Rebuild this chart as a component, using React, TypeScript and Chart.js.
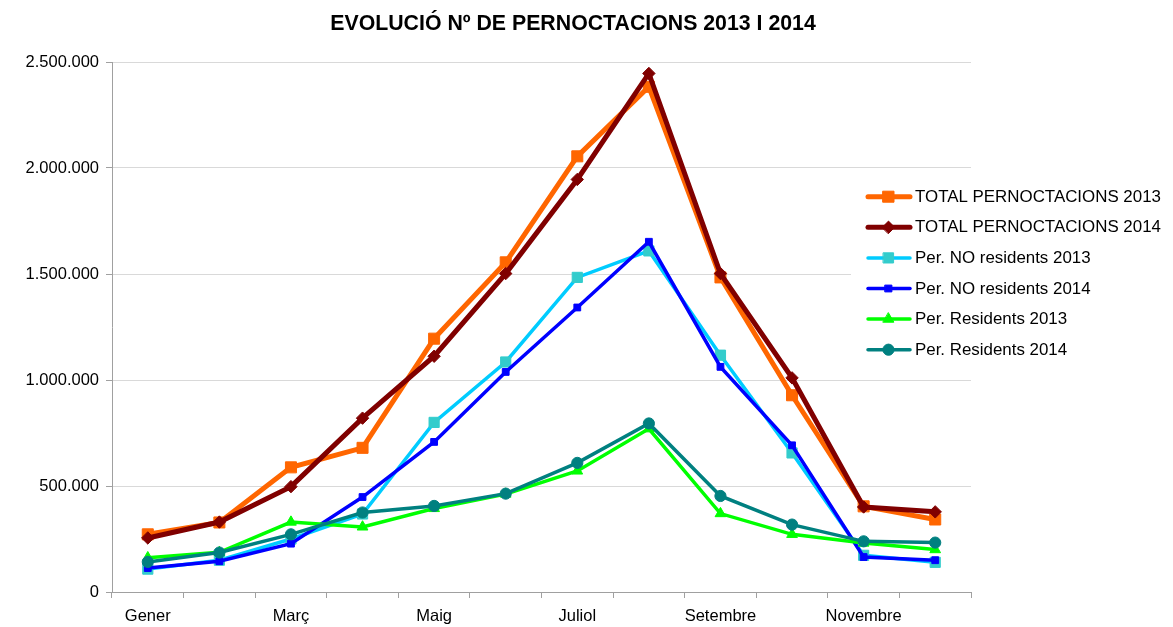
import React, { useEffect, useRef } from 'react';
import { Chart, registerables } from 'chart.js';
import { drawPoint } from 'chart.js/helpers';

Chart.register(...registerables);

const months = ['Gener', 'Febrer', 'Març', 'Abril', 'Maig', 'Juny', 'Juliol', 'Agost', 'Setembre', 'Octubre', 'Novembre', 'Desembre'];
const total2013 = [272000, 328000, 588000, 680000, 1195000, 1555000, 2055000, 2383000, 1484000, 928000, 404000, 342000];
const total2014 = [255000, 330000, 497000, 820000, 1112000, 1502000, 1946000, 2446000, 1502000, 1010000, 401000, 378000];
const noRes2013 = [108000, 150000, 250000, 368000, 800000, 1085000, 1484000, 1609000, 1117000, 656000, 173000, 140000];
const noRes2014 = [113000, 145000, 228000, 448000, 708000, 1038000, 1342000, 1652000, 1062000, 692000, 165000, 150000];
const res2013 = [162000, 187000, 330000, 307000, 394000, 462000, 571000, 770000, 370000, 272000, 231000, 200000];
const res2014 = [142000, 186000, 272000, 375000, 406000, 464000, 609000, 795000, 453000, 318000, 239000, 233000];
const yMin = 0;
const yMax = 2500000;
const yStep = 500000;
const title = 'EVOLUCIÓ Nº DE PERNOCTACIONS 2013 I 2014';

const FONT = '"Liberation Sans", Arial, sans-serif';

const fmt = (v: number) => String(Math.round(v)).replace(/\B(?=(\d{3})+(?!\d))/g, '.');

const titlePlugin = {
  id: 'customTitle',
  afterDraw(chart: any) {
    const ctx = chart.ctx;
    ctx.save();
    ctx.font = `bold 21.3px ${FONT}`;
    ctx.fillStyle = '#000';
    ctx.textAlign = 'center';
    ctx.textBaseline = 'alphabetic';
    ctx.fillText(title, 573, 30);
    ctx.restore();
  },
};

const legendPlugin = {
  id: 'customLegend',
  afterDraw(chart: any) {
    const ctx = chart.ctx;
    ctx.save();
    ctx.fillStyle = '#ffffff';
    ctx.fillRect(851, 178, 322, 190);
    chart.data.datasets.forEach((ds: any, i: number) => {
      const y = 196.7 + i * 30.6;
      ctx.strokeStyle = ds.borderColor;
      ctx.lineWidth = ds.borderWidth;
      ctx.lineCap = 'round';
      ctx.beginPath();
      ctx.moveTo(868, y);
      ctx.lineTo(910, y);
      ctx.stroke();
      ctx.fillStyle = ds.pointBackgroundColor;
      ctx.strokeStyle = ds.pointBorderColor;
      ctx.lineWidth = ds.pointBorderWidth;
      drawPoint(ctx, { pointStyle: ds.pointStyle, radius: ds.pointRadius, rotation: 0, borderWidth: ds.pointBorderWidth }, 888.5, y);
      ctx.fillStyle = '#000';
      ctx.font = `16.9px ${FONT}`;
      ctx.textAlign = 'left';
      ctx.textBaseline = 'middle';
      ctx.fillText(ds.label, 915, y + 0.5);
    });
    ctx.restore();
  },
};

export default function App() {
  const ref = useRef<HTMLCanvasElement>(null);
  useEffect(() => {
    if (!ref.current) return;
    Chart.defaults.font.family = FONT;
    const mk = (label: string, data: number[], line: string, fill: string, style: string, radius: number, width: number, order: number) => ({
      label,
      data,
      borderColor: line,
      backgroundColor: fill,
      borderWidth: width,
      pointStyle: style,
      pointRadius: radius,
      pointBackgroundColor: fill,
      pointBorderColor: fill,
      pointBorderWidth: 1,
      tension: 0,
      fill: false,
      order,
    });
    const chart = new Chart(ref.current, {
      type: 'line',
      data: {
        labels: months,
        datasets: [
          mk('TOTAL PERNOCTACIONS 2013', total2013, '#FF6600', '#FF6600', 'rect', 7.8, 5, 6),
          mk('TOTAL PERNOCTACIONS 2014', total2014, '#800000', '#800000', 'rectRot', 6.2, 5, 5),
          mk('Per. NO residents 2013', noRes2013, '#00CCFF', '#33CCCC', 'rect', 7.2, 3.5, 4),
          mk('Per. NO residents 2014', noRes2014, '#0000FF', '#0000FF', 'rect', 4.8, 3.5, 3),
          mk('Per. Residents 2013', res2013, '#00FF00', '#00FF00', 'triangle', 6.2, 3.5, 2),
          mk('Per. Residents 2014', res2014, '#008080', '#008080', 'circle', 5.6, 3.5, 1),
        ],
      },
      options: {
        responsive: false,
        animation: false,
        layout: { padding: { top: 62, right: 202, left: 0, bottom: 0 } },
        plugins: {
          legend: { display: false },
          title: { display: false },
          tooltip: { enabled: false },
        },
        scales: {
          x: {
            offset: true,
            grid: { offset: true, drawOnChartArea: false, drawTicks: true, tickLength: 6, tickColor: '#a0a0a0' },
            border: { color: '#a0a0a0', width: 1 },
            ticks: {
              autoSkip: false,
              maxRotation: 0,
              minRotation: 0,
              padding: 9,
              color: '#000',
              font: { size: 16.5, family: FONT },
              callback: (_v: any, i: number) => (i % 2 === 0 ? months[i] : ''),
            },
            afterFit: (s: any) => {
              s.height = 35;
            },
          },
          y: {
            min: yMin,
            max: yMax,
            ticks: {
              stepSize: yStep,
              padding: 7,
              color: '#000',
              font: { size: 16.5, family: FONT },
              callback: (v: any) => fmt(Number(v)),
            },
            grid: { color: '#d9d9d9', tickColor: '#a0a0a0', tickLength: 6, drawTicks: true },
            border: { color: '#a0a0a0', width: 1 },
            afterFit: (s: any) => {
              s.width = 112;
            },
          },
        },
      } as any,
      plugins: [titlePlugin, legendPlugin],
    });
    return () => chart.destroy();
  }, []);
  return (
    <div style={{ position: 'fixed', top: 0, left: 0, width: 1173, height: 627, background: '#fff' }}>
      <canvas ref={ref} width={1173} height={627} style={{ display: 'block' }} />
    </div>
  );
}
